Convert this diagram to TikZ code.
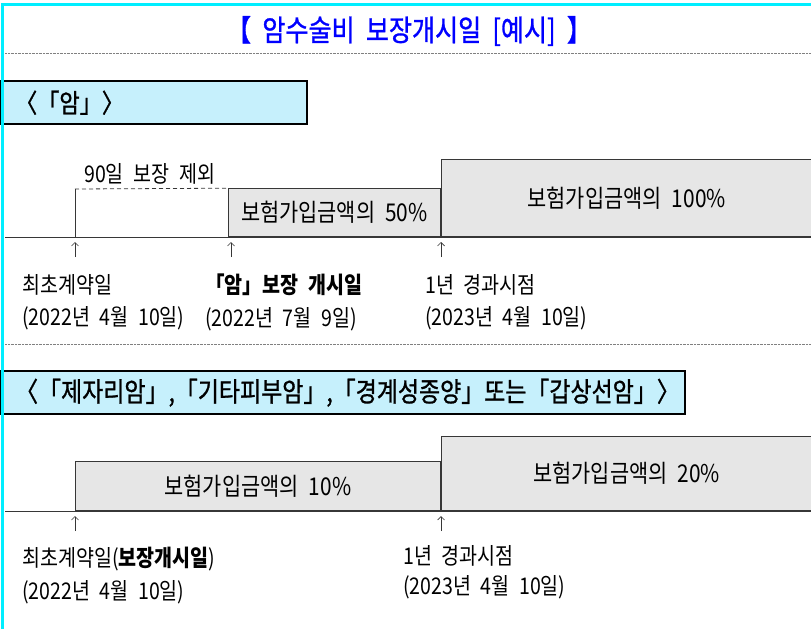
\documentclass[tikz,border=0pt]{standalone}
\usepackage{fontspec}
\setmainfont{Noto Sans CJK KR}[FakeStretch=0.85, WordSpace=2.2]
\newfontfamily\hdface{Noto Sans CJK KR}[FakeStretch=0.85, FakeBold=1, WordSpace=2]
\usetikzlibrary{positioning,arrows.meta}

\definecolor{boxcyan}{RGB}{198,240,252}
\definecolor{bargray}{RGB}{230,230,230}
\definecolor{linegray}{RGB}{55,55,55}
\definecolor{titleblue}{RGB}{0,0,255}
\definecolor{framecyan}{RGB}{0,238,255}

\newcommand\lblfont{\fontsize{23}{26}\selectfont}
\newcommand\barfont{\fontsize{24.5}{26}\selectfont}
\newcommand\hdfont{\hdface\fontsize{26}{28}\selectfont}
\newcommand\ttlfont{\hdface\fontsize{29.5}{30}\selectfont}

\tikzset{
  headbox/.style={draw=black, line width=2.4pt, fill=boxcyan, anchor=north west,
    inner ysep=0pt, align=left, font=\hdfont},
  bar/.style={draw=linegray, line width=0.8pt, fill=bargray, inner sep=0pt, font=\barfont},
  note/.style={inner sep=0pt, font=\lblfont},
  uparr/.style={draw=linegray, line width=0.7pt, -{Straight Barb[length=3.5pt,width=7pt]}},
  sepline/.style={draw=gray, line width=0.7pt, dash pattern=on 0.7pt off 0.7pt},
  axisline/.style={draw=linegray, line width=0.9pt},
  frameline/.style={draw=framecyan, line width=3pt}
}

\begin{document}
\begin{tikzpicture}[x=1pt,y=-1pt]
\useasboundingbox (0,0) rectangle (811,629);

% Title
\node[text=titleblue, font=\ttlfont] (title) at (409,31) {【 암수술비 보장개시일 [예시] 】};
\draw[sepline] (5,53) -- (811,53);

% Cancer block
\node[headbox,
    text width=278pt,
    inner xsep=14pt,
    minimum height=43pt] (headA) at (0,80) {〈「암」〉};

% Bars
\node[bar,
    minimum width=212pt,
    minimum height=48pt,
    anchor=south west] (barHalf) at (228,237) {보험가입금액의 50\%};
\node[bar,
    right=0pt of barHalf.south east,
    anchor=south west,
    minimum width=371pt,
    minimum height=77pt] (barFull) {보험가입금액의 100\%};

% 90 days excluded
\coordinate (tickA) at (75,237);
\coordinate (excl) at (75,189);
\draw[axisline, line width=0.8pt] (tickA) -- (excl);
\draw[axisline, line width=0.8pt, dash pattern=on 4pt off 3pt] (excl) -- (barHalf.north west);
\node[note, above right=4pt and 9pt of excl, anchor=south west] (exclText) {90일 보장 제외};

\draw[axisline] (5,237) -- (811,237);

% Arrows
\coordinate (tipA) at (75,242);  \coordinate (tailA) at (75,257);
\coordinate (tipB) at (231,242); \coordinate (tailB) at (231,257);
\coordinate (tipC) at (441,242); \coordinate (tailC) at (441,257);
\draw[uparr] (tailA) -- (tipA);
\draw[uparr] (tailB) -- (tipB);
\draw[uparr] (tailC) -- (tipC);

% Labels
\node[note, anchor=west] (startA) at (22,285) {최초계약일};
\node[note, below=11pt of startA.south west, anchor=north west] (startDateA) {(2022년 4월 10일)};
\node[note, anchor=west] (openA) at (205,285) {\textbf{「암」보장 개시일}};
\node[note, below=11pt of openA.south west, anchor=north west] (openDateA) {(2022년 7월 9일)};
\node[note, anchor=west] (yearA) at (425,285) {1년 경과시점};
\node[note, below=11pt of yearA.south west, anchor=north west] (yearDateA) {(2023년 4월 10일)};

\draw[sepline] (5,344) -- (811,344);

% Other cancers block
\node[headbox,
    text width=656pt,
    inner xsep=14pt,
    minimum height=43pt] (headB) at (0,370) {\fontsize{27}{28}\selectfont〈「제자리암」,「기타피부암」,「경계성종양」또는「갑상선암」〉};

\node[bar,
    minimum width=365pt,
    minimum height=49pt,
    anchor=south west] (barTen) at (75,511) {보험가입금액의 10\%};
\node[bar,
    right=0pt of barTen.south east,
    anchor=south west,
    minimum width=371pt,
    minimum height=74pt] (barTwenty) {보험가입금액의 20\%};

\draw[axisline] (5,511) -- (811,511);

\coordinate (tipD) at (75,516);  \coordinate (tailD) at (75,531);
\coordinate (tipE) at (441,516); \coordinate (tailE) at (441,531);
\draw[uparr] (tailD) -- (tipD);
\draw[uparr] (tailE) -- (tipE);

\node[note, anchor=west] (startB) at (22,559) {최초계약일(\textbf{보장개시일})};
\node[note, below=9pt of startB.south west, anchor=north west] (startDateB) {(2022년 4월 10일)};
\node[note, anchor=west] (yearB) at (403,556) {1년 경과시점};
\node[note, below=9pt of yearB.south west, anchor=north west] (yearDateB) {(2023년 4월 10일)};

% Frame
\draw[frameline] (2,629) -- (2,4.5) -- (811,4.5);

\end{tikzpicture}
\end{document}
